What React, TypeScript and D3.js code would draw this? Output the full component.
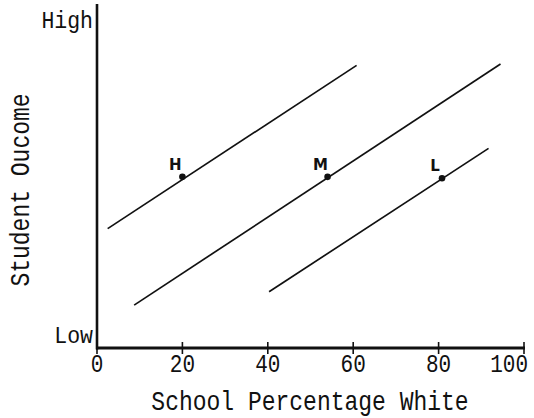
import React from "react";
import * as d3 from "d3";

const groups = ["H", "M", "L"];
const lineStartX = [2.5, 8.7, 40.3];
const lineStartY = [34.8, 12.5, 16.4];
const lineEndX = [60.8, 94.5, 91.7];
const lineEndY = [82.4, 82.8, 58.2];
const pointX = [20, 54, 80.8];
const pointY = [49.9, 49.9, 49.5];
const xTicks = [0, 20, 40, 60, 80, 100];
const xTickLabels = ["0", "20", "40", "60", "80", "100"];
const yLabels = ["Low", "High"];
const xTitle = "School Percentage White";
const yTitle = "Student Oucome";

const W = 534;
const H = 418;
const mono = "'Liberation Mono', 'DejaVu Sans Mono', monospace";

function Txt(props: {
  x: number;
  y: number;
  size: number;
  sy?: number;
  rotate?: number;
  anchor?: string;
  children: React.ReactNode;
}) {
  const { x, y, size, sy = 1, rotate = 0, anchor = "start" } = props;
  return (
    <text
      transform={`translate(${x},${y}) rotate(${rotate}) scale(1,${sy})`}
      fontFamily={mono}
      fontSize={size}
      textAnchor={anchor}
      fill="#111"
    >
      {props.children}
    </text>
  );
}

export default function App() {
  const x = d3.scaleLinear().domain([0, 100]).range([97, 524]);
  const y = d3.scaleLinear().domain([0, 100]).range([348, 5]);
  const line = d3
    .line<[number, number]>()
    .x((d) => x(d[0]))
    .y((d) => y(d[1]));

  return (
    <svg
      width={W}
      height={H}
      style={{ position: "absolute", left: 0, top: 0, background: "#fff" }}
    >
      <rect x={0} y={0} width={W} height={H} fill="#fff" />
      {groups.map((g, i) => (
        <path
          key={"l" + g}
          d={
            line([
              [lineStartX[i], lineStartY[i]],
              [lineEndX[i], lineEndY[i]],
            ]) || ""
          }
          stroke="#111"
          strokeWidth={1.7}
          fill="none"
        />
      ))}
      {groups.map((g, i) => (
        <g key={"p" + g}>
          <circle cx={x(pointX[i])} cy={y(pointY[i])} r={3.3} fill="#111" />
          <text
            x={x(pointX[i]) - 7}
            y={y(pointY[i]) - 7}
            fontFamily="'DejaVu Sans', sans-serif"
            fontWeight="bold"
            fontSize={15}
            textAnchor="middle"
            fill="#111"
          >
            {g}
          </text>
        </g>
      ))}
      <line x1={x(0)} x2={x(0)} y1={4} y2={y(0) + 1.5} stroke="#111" strokeWidth={2.6} />
      <line x1={x(0) - 1} x2={x(100) + 1} y1={y(0)} y2={y(0)} stroke="#111" strokeWidth={3} />
      {xTicks.map((t) => (
        <line
          key={"t" + t}
          x1={x(t)}
          x2={x(t)}
          y1={y(0) - 6}
          y2={y(0) + 6}
          stroke="#111"
          strokeWidth={1.6}
        />
      ))}
      {xTicks.map((t, i) => (
        <Txt
          key={"tl" + t}
          x={i === xTicks.length - 1 ? x(t) + 4 : x(t)}
          y={372}
          size={21}
          sy={1.2}
          anchor={i === xTicks.length - 1 ? "end" : "middle"}
        >
          {xTickLabels[i]}
        </Txt>
      ))}
      <Txt x={93} y={343} size={21.5} sy={1.1} anchor="end">
        {yLabels[0]}
      </Txt>
      <Txt x={93} y={28} size={21.5} sy={1.1} anchor="end">
        {yLabels[1]}
      </Txt>
      <Txt x={310} y={410} size={23} sy={1.22} anchor="middle">
        {xTitle}
      </Txt>
      <Txt x={29} y={190} size={23} sy={1.22} rotate={-90} anchor="middle">
        {yTitle}
      </Txt>
    </svg>
  );
}
